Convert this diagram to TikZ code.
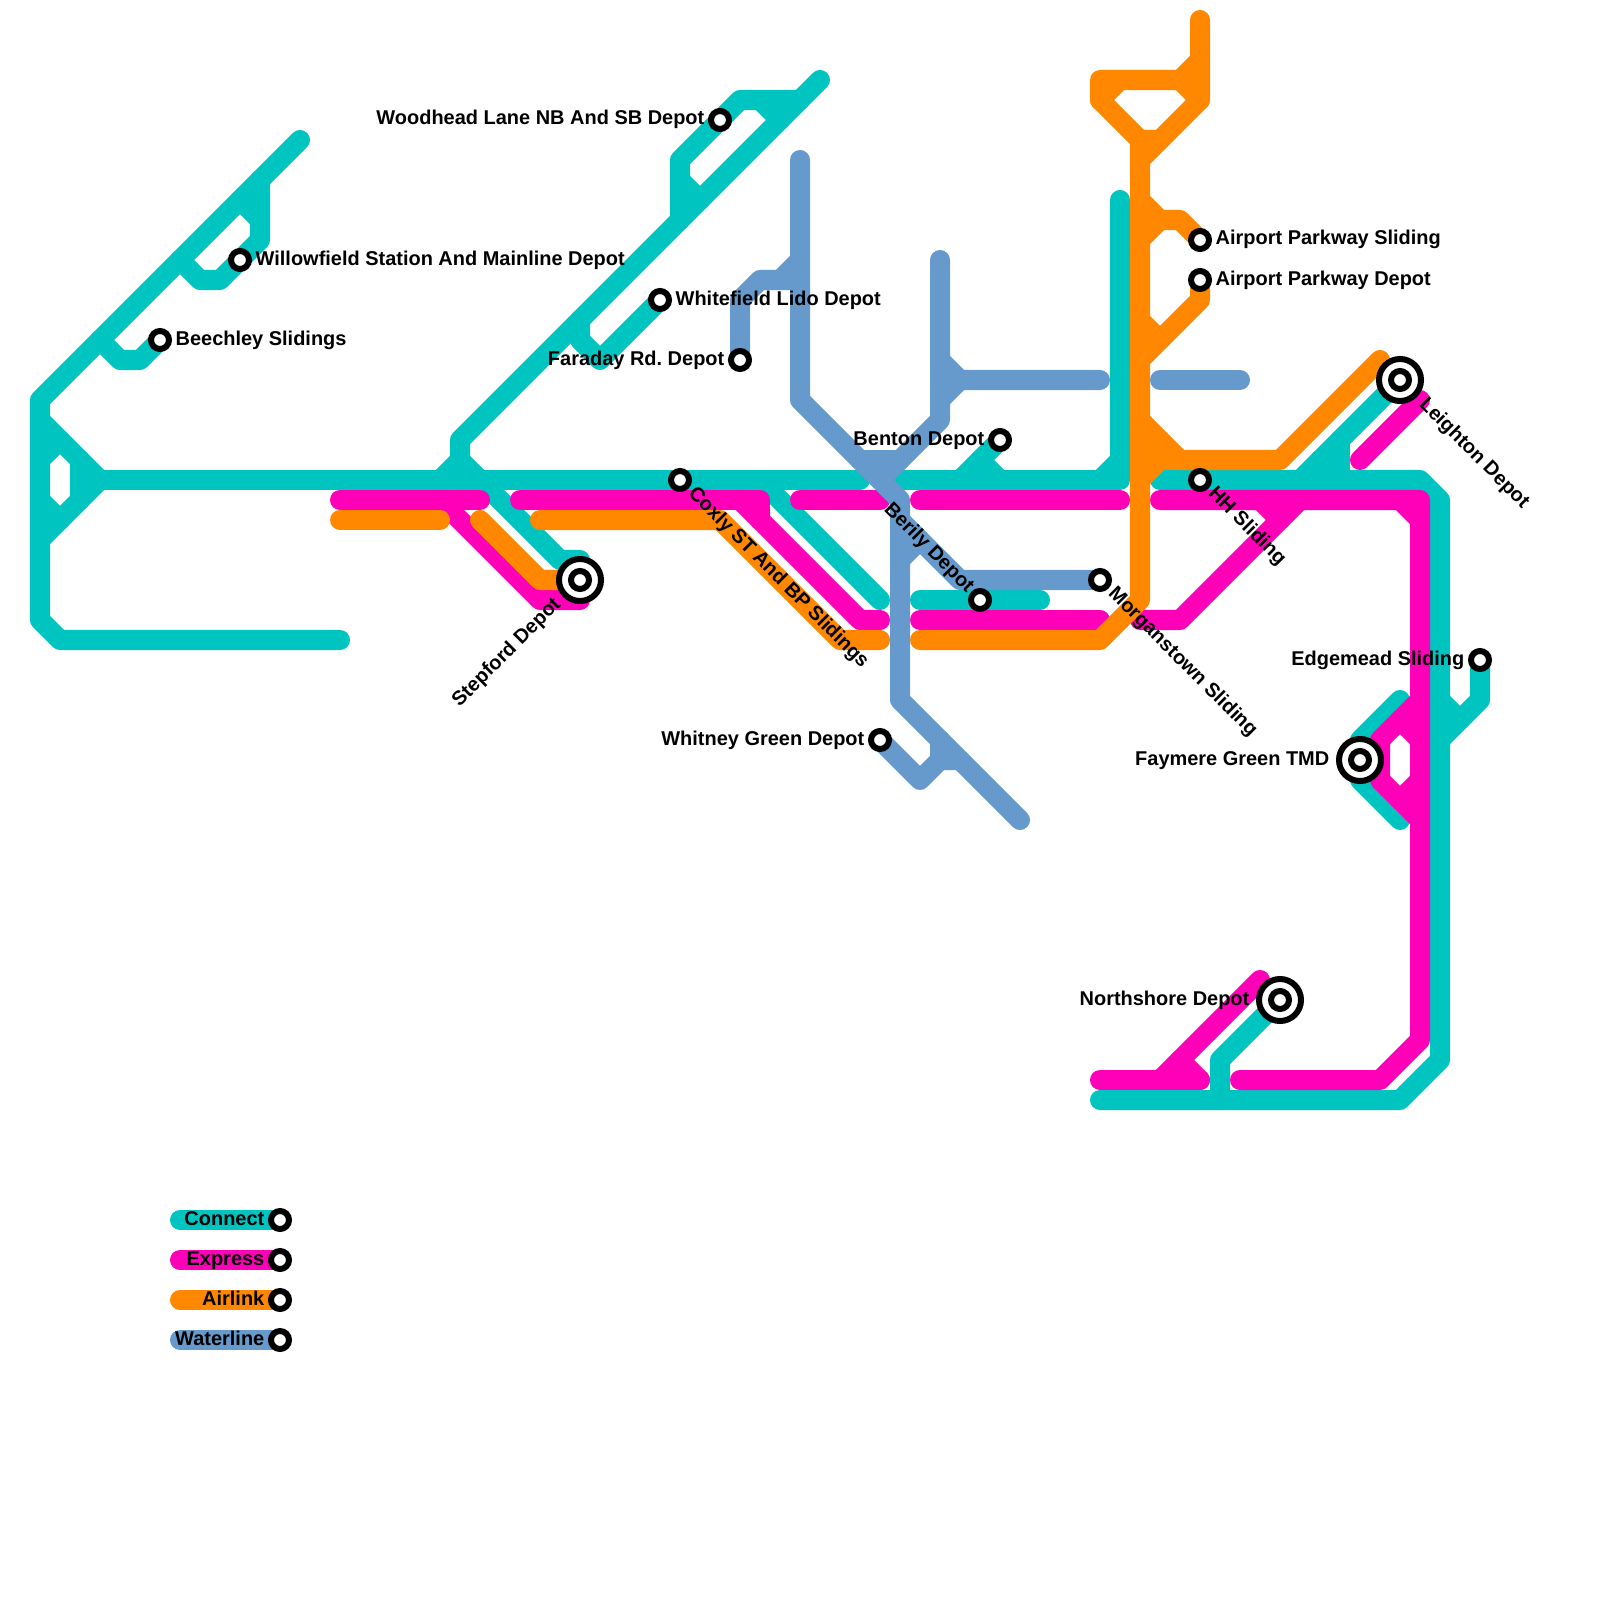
\documentclass[tikz,border=0pt]{standalone}
\usepackage{fontspec}
\setmainfont{Liberation Sans}
\frenchspacing
\definecolor{connect}{HTML}{00C4C0}
\definecolor{express}{HTML}{FF00B8}
\definecolor{airlink}{HTML}{FF8800}
\definecolor{waterline}{HTML}{6699CC}
\tikzset{
  metro/.style={line width=0.2cm,line cap=round,line join=round},
  tc/.style={metro,draw=connect},
  ex/.style={metro,draw=express},
  ai/.style={metro,draw=airlink},
  wa/.style={metro,draw=waterline},
  stop/.style={circle,draw=black,fill=white,line width=0.06cm,minimum size=0.18cm,inner sep=0pt},
  bigstop/.style={circle,draw=black,fill=white,line width=0.06cm,minimum size=0.42cm,inner sep=0pt},
  lab/.style={inner sep=0pt,text=black,font=\fontsize{5.675pt}{6.8pt}\selectfont\bfseries},
  labr/.style={lab,anchor=base west},
  labl/.style={lab,anchor=base east},
}
\begin{document}
\begin{tikzpicture}[x=0.01cm,y=-0.01cm]
\useasboundingbox (0,0) rectangle (1600,1600);
% station positions
\coordinate (beechley) at (160,340);
\coordinate (willow) at (240,260);
\coordinate (woodhead) at (720,120);
\coordinate (whitefield) at (660,300);
\coordinate (faraday) at (740,360);
\coordinate (coxly) at (680,480);
\coordinate (stepford) at (580,580);
\coordinate (whitney) at (880,740);
\coordinate (benton) at (1000,440);
\coordinate (berily) at (980,600);
\coordinate (morgan) at (1100,580);
\coordinate (apsliding) at (1200,240);
\coordinate (apdepot) at (1200,280);
\coordinate (leighton) at (1400,380);
\coordinate (hh) at (1200,480);
\coordinate (edgemead) at (1480,660);
\coordinate (faymere) at (1360,760);
\coordinate (northshore) at (1280,1000);
\coordinate (lc) at (280,1220);
\coordinate (le) at (280,1260);
\coordinate (la) at (280,1300);
\coordinate (lw) at (280,1340);
% Connect
\draw[tc] (300,140)--(40,400)--(40,620)--(60,640)--(340,640);
\draw[tc] (40,420)--(100,480)--(40,540);
\draw[tc] (80,460)--(80,500);
\draw[tc] (40,460)--(60,440);
\draw[tc] (40,500)--(60,520);
\draw[tc] (100,340)--(120,360)--(140,360)--(beechley);
\draw[tc] (260,180)--(260,240)--(220,280)--(200,280)--(180,260);
\draw[tc] (240,200)--(260,220);
\draw[tc] (100,480)--(860,480);
\draw[tc] (820,80)--(460,440)--(460,460);
\draw[tc] (440,480)--(460,460)--(480,480)--(560,560)--(580,560);
\draw[tc] (680,220)--(680,160)--(740,100)--(800,100);
\draw[tc] (760,100)--(780,120);
\draw[tc] (680,180)--(700,200);
\draw[tc] (580,320)--(580,340)--(600,360)--(whitefield);
\draw[tc] (760,480)--(880,600);
\draw[tc] (900,480)--(1100,480)--(1120,480)--(1120,200);
\draw[tc] (1100,480)--(1120,460);
\draw[tc] (960,480)--(benton);
\draw[tc] (980,460)--(1000,480);
\draw[tc] (920,600)--(1040,600);
\draw[tc] (1160,480)--(1420,480)--(1440,500)--(1440,1060)--(1400,1100)--(1100,1100);
\draw[tc] (1300,480)--(leighton);
\draw[tc] (1340,440)--(1340,480);
\draw[tc] (1320,460)--(1340,460);
\draw[tc] (1320,460)--(1340,480);
\draw[tc] (edgemead)--(1480,700)--(1440,740);
\draw[tc] (1440,700)--(1460,720);
\draw[tc] (1400,700)--(1360,740)--(1360,780)--(1400,820);
\draw[tc] (1220,1100)--(1220,1060)--(northshore);
\draw[tc] (180,1220)--(lc);
% Express
\draw[ex] (340,500)--(480,500);
\draw[ex] (440,500)--(540,600)--(580,600);
\draw[ex] (520,500)--(760,500)--(760,520);
\draw[ex] (740,500)--(860,620)--(880,620);
\draw[ex] (800,500)--(880,500);
\draw[ex] (920,500)--(1120,500);
\draw[ex] (920,620)--(1100,620);
\draw[ex] (1160,500)--(1420,500)--(1420,1040)--(1380,1080)--(1240,1080);
\draw[ex] (1400,500)--(1420,520);
\draw[ex] (1140,620)--(1180,620)--(1300,500);
\draw[ex] (1260,500)--(1280,520);
\draw[ex] (1360,460)--(1420,400);
\draw[ex] (1420,700)--(1380,740)--(1380,780)--(1420,820);
\draw[ex] (1400,720)--(1420,740);
\draw[ex] (1400,800)--(1420,780);
\draw[ex] (1100,1080)--(1200,1080);
\draw[ex] (1260,980)--(1160,1080);
\draw[ex] (1180,1060)--(1200,1080);
\draw[ex] (180,1260)--(le);
% Airlink
\draw[ai] (340,520)--(440,520);
\draw[ai] (480,520)--(540,580)--(stepford);
\draw[ai] (540,520)--(720,520)--(840,640)--(880,640);
\draw[ai] (1200,20)--(1200,100)--(1140,160)--(1140,600)--(1100,640)--(920,640);
\draw[ai] (1200,60)--(1180,80)--(1100,80)--(1100,100)--(1140,140)--(1160,140);
\draw[ai] (1140,140)--(1140,160);
\draw[ai] (1100,100)--(1120,80);
\draw[ai] (1180,80)--(1200,100);
\draw[ai] (1140,200)--(1160,220)--(1180,220)--(apsliding);
\draw[ai] (1140,240)--(1160,220);
\draw[ai] (apdepot)--(1200,300)--(1140,360);
\draw[ai] (1140,320)--(1160,340);
\draw[ai] (1140,420)--(1180,460)--(1280,460)--(1380,360);
\draw[ai] (1140,480)--(1160,460);
\draw[ai] (1140,460)--(1180,460);
\draw[ai] (1140,440)--(1160,460);
\draw[ai] (180,1300)--(la);
% Waterline
\draw[wa] (800,160)--(800,400)--(900,500)--(900,700)--(1020,820);
\draw[wa] (900,520)--(960,580)--(morgan);
\draw[wa] (900,560)--(920,540);
\draw[wa] (940,260)--(940,420)--(880,480);
\draw[wa] (860,460)--(900,460);
\draw[wa] (940,360)--(960,380)--(1100,380);
\draw[wa] (940,400)--(960,380);
\draw[wa] (1160,380)--(1240,380);
\draw[wa] (faraday)--(740,300)--(760,280)--(800,280);
\draw[wa] (780,280)--(800,260);
\draw[wa] (whitney)--(920,780)--(940,760)--(960,760);
\draw[wa] (940,740)--(940,760);
\draw[wa] (180,1340)--(lw);
% Stations
\foreach \p/\n in {beechley/sb,willow/sw,woodhead/sh,whitefield/sf,faraday/sd,coxly/sc,whitney/sy,benton/sn,berily/si,morgan/sm,apsliding/sa,apdepot/sp,hh/sq,edgemead/se,lc/s1,le/s2,la/s3,lw/s4}
  \node[stop] (\n) at (\p) {};
\foreach \p/\n in {stepford/bs,leighton/bl,faymere/bf,northshore/bn}{
  \node[bigstop] (\n) at (\p) {};
  \node[stop] (\n i) at (\p) {};
}
% Labels
\node[labr] (t1) at (175,345) {Beechley Slidings};
\node[labr] (t2) at (255,265) {Willowfield Station And Mainline Depot};
\node[labl] (t3) at (705,125) {Woodhead Lane NB And SB Depot};
\node[labr] (t4) at (675,305) {Whitefield Lido Depot};
\node[labl] (t5) at (725,365) {Faraday Rd. Depot};
\node[labr,rotate=-45] (t6) at (687,494) {Coxly ST And BP Slidings};
\node[labl,rotate=45] (t7) at (562,605) {Stepford Depot};
\node[labl] (t8) at (865,745) {Whitney Green Depot};
\node[labl] (t9) at (985,445) {Benton Depot};
\node[labl,rotate=-45] (t10) at (967,594) {Berily Depot};
\node[labr,rotate=-45] (t11) at (1107,594) {Morganstown Sliding};
\node[labr] (t12) at (1215,245) {Airport Parkway Sliding};
\node[labr] (t13) at (1215,285) {Airport Parkway Depot};
\node[labr,rotate=-45] (t14) at (1418,405) {Leighton Depot};
\node[labr,rotate=-45] (t15) at (1207,494) {HH Sliding};
\node[labl] (t16) at (1465,665) {Edgemead Sliding};
\node[labl] (t17) at (1330,765) {Faymere Green TMD};
\node[labl] (t18) at (1250,1005) {Northshore Depot};
\node[labl] (t19) at (265,1225) {Connect};
\node[labl] (t20) at (265,1265) {Express};
\node[labl] (t21) at (265,1305) {Airlink};
\node[labl] (t22) at (265,1345) {Waterline};
\end{tikzpicture}
\end{document}
